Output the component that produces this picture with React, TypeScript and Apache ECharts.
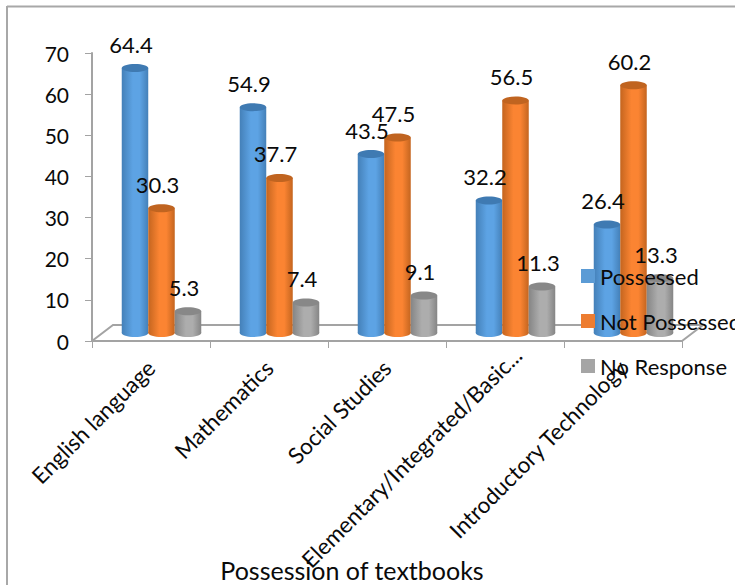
import React, { useEffect, useRef } from "react";
import * as echarts from "echarts";

const categories = [
  "English language",
  "Mathematics",
  "Social Studies",
  "Elementary/Integrated/Basic...",
  "Introductory Technology",
];
const possessed = [64.4, 54.9, 43.5, 32.2, 26.4];
const notPossessed = [30.3, 37.7, 47.5, 56.5, 60.2];
const noResponse = [5.3, 7.4, 9.1, 11.3, 13.3];
const yTicks = { min: 0, max: 70, interval: 10 };

const FONT = "Lato";
const INK = "#0a0a0a";
const AXIS_GREY = "#a3a3a3";

// Plot frame in page pixels
const GRID = { left: 92, top: 53, width: 590, height: 288 };
// Shift of the floor's back edge relative to the front edge
const DEPTH = { x: 21, y: -16 };
// Each cylinder stands in the middle of the floor
const STAND = { x: 10.5, y: -8 };

type Shade = { edge: string; mid: string; cap: string };
const SHADES: Record<string, Shade> = {
  blue: { edge: "#4480b8", mid: "#5da3e4", cap: "#3f7ab2" },
  orange: { edge: "#c4651f", mid: "#fb8432", cap: "#c06420" },
  grey: { edge: "#858585", mid: "#adadad", cap: "#888888" },
};

const LEGEND_COLORS: Record<string, string> = {
  Possessed: "#5b9bd5",
  "Not Possessed": "#ed7d31",
  "No Response": "#a5a5a5",
};

function cylinderSeries(name: string, values: number[], slot: number, shade: Shade) {
  const fill = new echarts.graphic.LinearGradient(0, 0, 1, 0, [
    { offset: 0, color: shade.edge },
    { offset: 0.42, color: shade.mid },
    { offset: 0.68, color: shade.mid },
    { offset: 1, color: shade.edge },
  ]);
  return {
    type: "custom" as const,
    name,
    data: values.map((v, i) => [i, v]),
    encode: { x: 0, y: 1 },
    itemStyle: { color: LEGEND_COLORS[name] },
    clip: false,
    renderItem: (_params: unknown, api: any) => {
      const cat = api.value(0);
      const val = api.value(1);
      const [cx, topY] = api.coord([cat, val]);
      const [, baseY] = api.coord([cat, 0]);
      const cell = api.size([1, 0])[0];
      const w = cell * 0.2246;
      const x = cx + STAND.x + (slot - 1) * w;
      const top = topY + STAND.y;
      const base = baseY + STAND.y;
      const rx = w / 2;
      const ry = 4;
      return {
        type: "group",
        children: [
          { type: "ellipse", shape: { cx: x, cy: base, rx, ry }, style: { fill } },
          { type: "rect", shape: { x: x - rx, y: top, width: w, height: base - top }, style: { fill } },
          { type: "ellipse", shape: { cx: x, cy: top, rx, ry }, style: { fill: shade.cap } },
          {
            type: "text",
            x: x - 4,
            y: top - 24,
            // Value labels stay above every neighbouring cylinder
            z2: 100,
            style: {
              text: String(val),
              fill: INK,
              font: `22px ${FONT}`,
              align: "center",
              verticalAlign: "middle",
            },
          },
        ],
      };
    },
  };
}

export default function App() {
  const ref = useRef<HTMLDivElement>(null);

  useEffect(() => {
    if (!ref.current) return;
    const chart = echarts.init(ref.current, undefined, { renderer: "svg" });
    const right = GRID.left + GRID.width;
    const bottom = GRID.top + GRID.height;
    chart.setOption({
      animation: false,
      backgroundColor: "#ffffff",
      textStyle: { fontFamily: FONT },
      grid: {
        left: GRID.left,
        top: GRID.top,
        width: GRID.width,
        height: GRID.height,
        containLabel: false,
        outerBoundsMode: "none",
      },
      xAxis: {
        type: "category",
        // The long truncated label sits further along its slant than the others
        data: categories.map((value) =>
          value.endsWith("...") ? { value, textStyle: { padding: [0, -18, 0, 0] } } : value
        ),
        name: "Possession of textbooks",
        nameLocation: "middle",
        nameGap: 216,
        nameMoveOverlap: false,
        nameTextStyle: { fontSize: 25, color: INK, fontFamily: FONT, padding: [0, 70, 0, 0] },
        axisLine: { show: true, lineStyle: { color: AXIS_GREY, width: 2 } },
        axisTick: { show: true, length: 7, alignWithLabel: false, lineStyle: { color: AXIS_GREY } },
        axisLabel: { rotate: 45, margin: 23, fontSize: 22.5, color: INK, fontFamily: FONT, interval: 0 },
      },
      yAxis: {
        type: "value",
        min: yTicks.min,
        max: yTicks.max,
        interval: yTicks.interval,
        axisLine: { show: true, lineStyle: { color: AXIS_GREY, width: 2 } },
        axisTick: { show: true, length: 7, lineStyle: { color: AXIS_GREY } },
        axisLabel: { margin: 23, fontSize: 21, color: INK, fontFamily: FONT },
        splitLine: { show: false },
      },
      legend: {
        orient: "vertical",
        left: 581,
        top: 263,
        padding: 0,
        itemWidth: 14,
        itemHeight: 14,
        itemGap: 19,
        icon: "rect",
        z: 20,
        textStyle: { fontSize: 22, color: INK, fontFamily: FONT, lineHeight: 26 },
        data: Object.keys(LEGEND_COLORS).map((name) => ({
          name,
          itemStyle: { color: LEGEND_COLORS[name], borderWidth: 0 },
        })),
      },
      graphic: [
        // Outer chart frame
        { type: "line", silent: true, shape: { x1: 7, y1: 6.5, x2: 735, y2: 6.5 }, style: { stroke: "#a8a8a8", lineWidth: 2 } },
        { type: "line", silent: true, shape: { x1: 7, y1: 6, x2: 7, y2: 585 }, style: { stroke: "#a8a8a8", lineWidth: 2 } },
        // Floor of the plot, behind the cylinders
        {
          type: "polyline",
          silent: true,
          z: -1,
          shape: {
            points: [
              [GRID.left, bottom],
              [GRID.left + DEPTH.x, bottom + DEPTH.y],
              [right + DEPTH.x, bottom + DEPTH.y],
              [right, bottom],
            ],
          },
          style: { stroke: AXIS_GREY, lineWidth: 2, fill: "none" },
        },
      ],
      series: [
        cylinderSeries("Possessed", possessed, 0, SHADES.blue),
        cylinderSeries("Not Possessed", notPossessed, 1, SHADES.orange),
        cylinderSeries("No Response", noResponse, 2, SHADES.grey),
      ],
    });
    return () => chart.dispose();
  }, []);

  return <div ref={ref} style={{ position: "fixed", left: 0, top: 0, width: 735, height: 585 }} />;
}
